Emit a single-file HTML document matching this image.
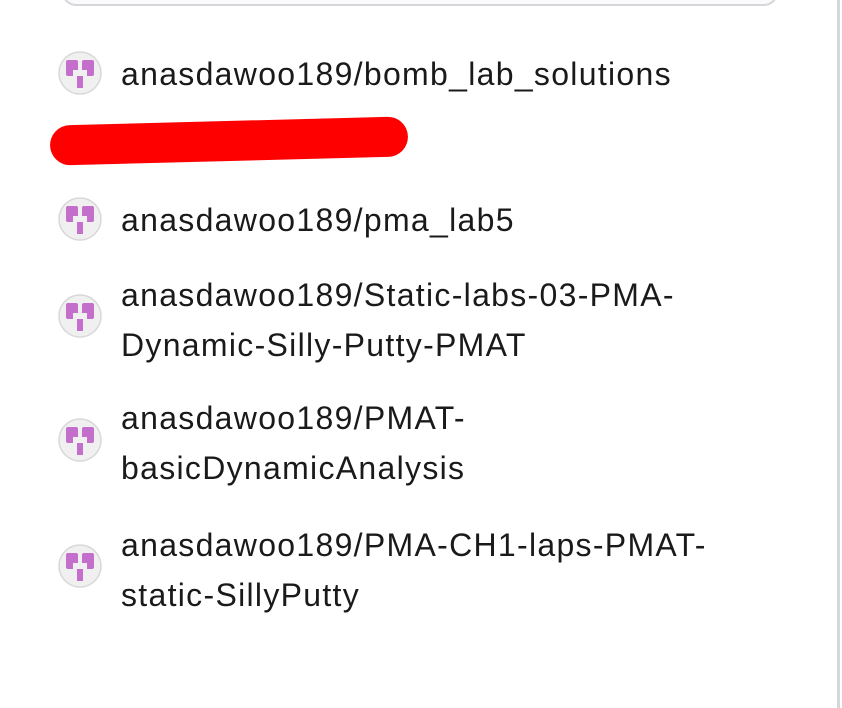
<!DOCTYPE html>
<html><head><style>
body{margin:0;width:842px;height:708px;background:#fff;position:relative;overflow:hidden;font-family:"Liberation Sans",sans-serif;color:#1a1a1a}
.box{position:absolute;left:62px;top:-40px;width:712px;height:44px;border:2px solid #d4d6da;border-top:none;border-radius:0 0 14px 14px;background:#fafafa}
.vl{position:absolute;left:837px;top:0;width:3px;height:708px;background:#d4d6da}
.ic{position:absolute;left:58px;width:44px;height:44px}
.t{position:absolute;left:121px;font-size:32px;letter-spacing:1.3px;line-height:50px;white-space:nowrap}
.red{position:absolute;left:50px;top:121px;width:358px;height:40px;background:#f00;border-radius:20px;transform:rotate(-1.5deg)}
</style></head><body>
<div class="box"></div><div class="vl"></div>
<svg width="0" height="0" style="position:absolute"><defs><g id="i"><circle cx="22" cy="22" r="21" fill="#f0f0f0" stroke="#d8d8d8" stroke-width="1.5"/><rect x="8" y="9" width="12" height="16" rx="2" fill="#c46fcb"/><rect x="24" y="9" width="12" height="16" rx="2" fill="#c46fcb"/><rect x="19" y="25" width="6" height="12" fill="#c46fcb"/><rect x="15" y="19" width="5" height="6" fill="#f0f0f0"/><rect x="24" y="19" width="5" height="6" fill="#f0f0f0"/></g></defs></svg>
<svg class="ic" style="top:51px"><use href="#i"/></svg>
<div class="t" style="top:49px">anasdawoo189/bomb_lab_solutions</div>
<div class="red"></div>
<svg class="ic" style="top:197px"><use href="#i"/></svg>
<div class="t" style="top:195px">anasdawoo189/pma_lab5</div>
<svg class="ic" style="top:294px"><use href="#i"/></svg>
<div class="t" style="top:270px">anasdawoo189/Static-labs-03-PMA-<br>Dynamic-Silly-Putty-PMAT</div>
<svg class="ic" style="top:418px"><use href="#i"/></svg>
<div class="t" style="top:393px">anasdawoo189/PMAT-<br>basicDynamicAnalysis</div>
<svg class="ic" style="top:544px"><use href="#i"/></svg>
<div class="t" style="top:520px">anasdawoo189/PMA-CH1-laps-PMAT-<br>static-SillyPutty</div>
</body></html>
